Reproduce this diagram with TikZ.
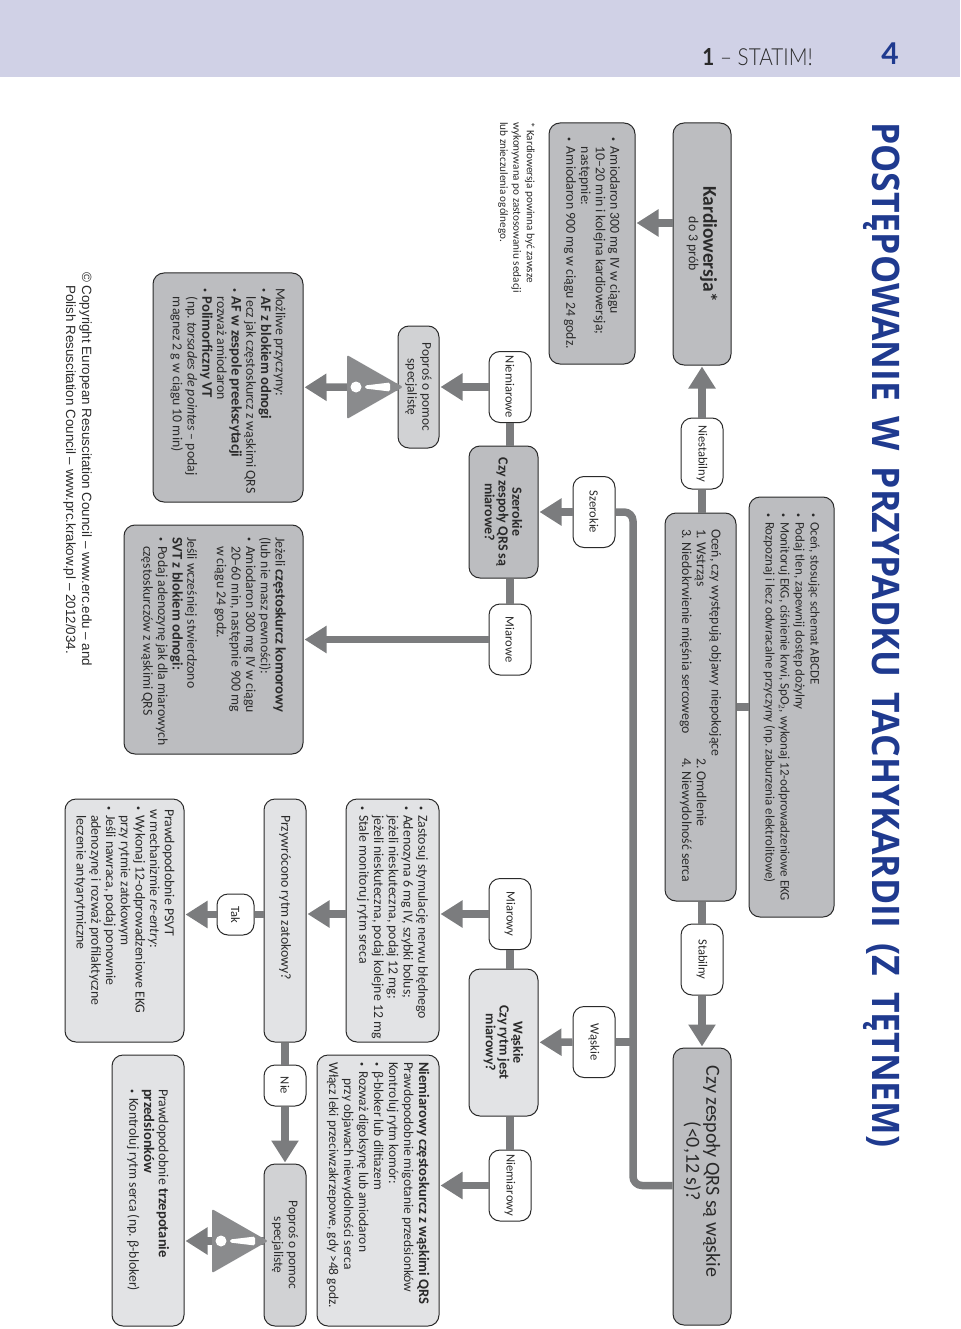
\documentclass[tikz,border=0pt]{standalone}
\usepackage{fontspec}
\setmainfont{Carlito}
\newfontfamily\arialfont{Liberation Sans}
\newfontfamily\titlefont{Open Sans}[WordSpace=1.7]
\newfontfamily\thinfont{Lato Light}[Ligatures=TeX]
\newfontfamily\latofont{Lato}[Ligatures=TeX]
\usetikzlibrary{arrows.meta,calc}
\definecolor{bandblue}{HTML}{D0D1E6}
\definecolor{titleblue}{HTML}{1F3A8F}
\definecolor{boxdark}{HTML}{BCBDC0}
\definecolor{boxmid}{HTML}{D1D2D4}
\definecolor{boxlight}{HTML}{E2E3E5}
\definecolor{flowgrey}{HTML}{7B7C7E}
\definecolor{signgrey}{HTML}{8A8B8D}
\definecolor{inkgrey}{HTML}{2A2A2A}
\frenchspacing
\newcommand{\bodysize}{\fontsize{13.8}{14.7}\selectfont}
\newcommand{\mocno}[1]{{\fontsize{14.6}{14.7}\selectfont\bfseries #1}}
\newcommand{\pkt}{\makebox[9pt][l]{\raisebox{.6pt}{\fontsize{8}{8}\selectfont\textbullet}}}
\newcommand{\hng}{\hspace*{9pt}}
\begin{document}
\begin{tikzpicture}[
        x=1pt,y=-1pt,
        >=latex,line cap=butt,line join=round,
        panel/.style={draw=inkgrey,line width=1pt,rounded corners=11pt,rotate=-90,
            fill=boxdark,text=inkgrey,font=\bodysize,inner ysep=0pt},
        sized/.code n args={3}{%
            \pgfmathsetmacro\panelw{#1-2*#3}%
            \pgfkeysalso{minimum width=#1pt,minimum height=#2pt,inner xsep=#3pt,
                text width=\panelw pt,align=flush left}},
        centred/.style 2 args={minimum width=#1pt,minimum height=#2pt,inner xsep=0pt,align=flush center},
        choice/.style={panel,fill=white,centred={71}{42},font=\fontsize{12.6}{14}\selectfont},
        question/.style={panel,font=\fontsize{14}{13.8}\selectfont\bfseries},
        flow/.style={draw=flowgrey,line width=7.5pt,-{Triangle[length=22pt,width=26pt]},shorten >=1pt},
        link/.style={draw=flowgrey,line width=7.5pt},
        warn/.pic={
            \fill[signgrey,rounded corners=2pt] (1,0) -- (-55,-32) -- (-55,32) -- cycle;
            \fill[white] (-46,0) circle (5.5);
            \fill[white,rounded corners=1.5pt] (-37,-1.5) -- (-12,-4.5) -- (-12,4.5) -- (-37,1.5) -- cycle;
        }
    ]
    \useasboundingbox (0,0) rectangle (960,1329);
    % header band
    \fill[bandblue] (0,0) rectangle (960,77);
    \node[anchor=base east,inner sep=0pt,font=\fontsize{23.5}{24}\thinfont\selectfont,text=inkgrey] (statim) at (813,66) {\scalebox{.88}[1]{{\latofont\bfseries 1} -- STATIM!}};
    \node[anchor=base,inner sep=0pt,font=\fontsize{30}{30}\latofont\selectfont\bfseries,text=titleblue] (pageno) at (890,65) {4};
    \node[rotate=-90,anchor=west,inner sep=0pt,text=titleblue,font=\fontsize{38}{38}\titlefont\selectfont\bfseries] (title) at (882,122)
        {\scalebox{.935}[1]{POSTĘPOWANIE W PRZYPADKU TACHYKARDII (Z TĘTNEM)}};

    % top row
    \node[panel,centred={242}{58}] (kardio) at (702,244)
        {{\fontsize{19.5}{21}\selectfont\bfseries Kardiowersja*}\\do 3 prób};
    \node[panel,sized={241}{86}{15}] (amio) at (592,243.5)
        {\pkt Amiodaron 300 mg IV w ciągu\\ \hng 10--20 min i kolejna kardiowersja;\\ \hng następnie:\\ \pkt Amiodaron 900 mg w ciągu 24 godz.};
    \node[choice] (niestabilny) at (702,453.5) {Niestabilny};
    \node[panel,sized={388}{71}{16}] (ocena) at (700.5,707)
        {Oceń, czy występują objawy niepokojące\\ \makebox[229pt][l]{1. Wstrząs}2. Omdlenie\\ \makebox[229pt][l]{3. Niedokrwienie mięśnia sercowego}4. Niewydolność serca};
    \node[panel,sized={420}{85}{16},font=\fontsize{13}{15}\selectfont] (abcde) at (791.5,707)
        {\pkt Oceń, stosując schemat ABCDE\\ \pkt Podaj tlen, zapewnij dostęp dożylny\\ \pkt\mbox{Monitoruj EKG, ciśnienie krwi, SpO$_2$, wykonaj 12-odprowadzeniowe EKG}\\ \pkt\mbox{Rozpoznaj i lecz odwracalne przyczyny (np. zaburzenia elektrolitowe)}};
    \node[choice] (stabilny) at (702,959.5) {Stabilny};
    \node[panel,centred={277}{58},font=\fontsize{20}{20}\selectfont] (czy) at (702,1186.5)
        {Czy zespoły QRS są wąskie\hspace*{30pt}\\(<0,12 s)?\hspace*{50pt}};

    % wide or narrow
    \node[choice] (szerokie) at (594,512) {Szerokie};
    \node[choice] (waskie) at (594,1042) {Wąskie};
    \node[question,centred={132}{69}] (szerokieq) at (503.5,512)
        {Szerokie\\Czy zespoły QRS są\\miarowe?};
    \node[question,centred={147}{69},fill=boxlight] (waskieq) at (503.5,1042.5)
        {Wąskie\\Czy rytm jest\\miarowy?};
    \node[choice] (niemiarowe) at (510,387) {Niemiarowe};
    \node[choice] (miarowe) at (510,639.5) {Miarowe};
    \node[choice] (miarowy) at (510,914) {Miarowy};
    \node[choice] (niemiarowy) at (510,1185.5) {Niemiarowy};

    % footnote
    \node[rotate=-90,anchor=north west,inner sep=0pt,align=flush left,text=inkgrey,font=\fontsize{11.2}{13.4}\selectfont] (note) at (535,122)
        {* Kardiowersja powinna być zawsze\\wykonywana po zastosowaniu sedacji\\lub znieczulenia ogólnego.};

    % wide branch
    \node[panel,centred={122}{41},fill=boxmid,font=\fontsize{13.4}{14.7}\selectfont] (specA) at (418.5,387)
        {Poproś o pomoc\\specjalistę};
    \node[panel,sized={229}{150}{15}] (przyczyny) at (228,387.5)
        {Możliwe przyczyny:\\ \pkt\mocno{AF z blokiem odnogi}\\ \hng\mbox{lecz jak częstoskurcz z wąskimi QRS}\\ \pkt\mocno{AF w zespole preekscytacji}\\ \hng rozważ amiodaron\\ \pkt\mocno{Polimorficzny VT}\\ \hng(np. \textit{torsades de pointes} -- podaj\\ \hng magnez 2 g w ciągu 10 min)};
    \node[panel,sized={229}{179}{12}] (komorowy) at (213.5,639.5)
        {Jeżeli \mocno{częstoskurcz komorowy}\\(lub nie masz pewności):\\ \pkt Amiodaron 300 mg IV w ciągu\\ \hng 20--60 min, następnie 900 mg\\ \hng w ciągu 24 godz.\\[14.7pt]Jeśli wcześniej stwierdzono\\\mocno{SVT z blokiem odnogi:}\\ \pkt\mbox{Podaj adenozynę jak dla miarowych}\\ \hng\mbox{częstoskurczów z wąskimi QRS}};

    % narrow branch
    \node[panel,sized={243}{93}{7},fill=boxlight] (zastosuj) at (392.5,920.5)
        {\pkt\mbox{Zastosuj stymulację nerwu błędnego}\\ \pkt Adenozyna 6 mg IV, szybki bolus;\\ \hng jeżeli nieskuteczna, podaj 12 mg;\\ \hng\mbox{jeżeli nieskuteczna, podaj kolejne 12 mg}\\ \pkt Stale monitoruj rytm sreca};
    \node[panel,sized={243}{42}{16},fill=boxlight] (przywrocono) at (285,920.5)
        {Przywrócono rytm zatokowy?};
    \node[panel,fill=white,centred={41}{37},font=\fontsize{12.6}{14}\selectfont] (tak) at (235.5,914.5) {Tak};
    \node[panel,sized={243}{119}{7},fill=boxlight] (psvt) at (124.5,920.5)
        {\hspace*{3pt}Prawdopodobnie PSVT\\ \hspace*{3pt}w mechanizmie \textit{re-entry}:\\ \pkt Wykonaj 12-odprowadzeniowe EKG\\ \hng przy rytmie zatokowym\\ \pkt Jeśli nawraca, podaj ponownie\\ \hng adenozynę i rozważ profilaktyczne\\ \hng leczenie antyarytmiczne};
    \node[panel,fill=white,centred={41}{42},font=\fontsize{12.6}{14}\selectfont] (nie) at (285,1085.5) {Nie};
    \node[panel,centred={162}{42},fill=boxmid,font=\fontsize{13.4}{14.7}\selectfont] (specB) at (285,1245)
        {Poproś o pomoc\\specjalistę};
    \node[panel,sized={271}{122}{7},fill=boxlight,font=\fontsize{13.5}{15}\selectfont] (migotanie) at (378,1190.5)
        {\mocno{Niemiarowy częstoskurcz z wąskimi QRS}\\Prawdopodobnie migotanie przedsionków\\Kontroluj rytm komór:\\ \pkt β-bloker lub diltiazem\\ \pkt Rozważ digoksynę lub amiodaron\\ \hspace*{16pt}przy objawach niewydolności serca\\\mbox{Włącz leki przeciwzakrzepowe, gdy >48 godz.}};
    \node[panel,sized={271}{72}{34},fill=boxlight] (trzepotanie) at (148,1190.5)
        {Prawdopodobnie \mocno{trzepotanie}\\\mocno{przedsionków}\\ \pkt\mbox{Kontroluj rytm serca (np. β-bloker)}};

    % copyright
    \node[rotate=-90,anchor=north west,inner sep=0pt,align=flush left,text=inkgrey,font=\arialfont\fontsize{13.4}{16}\selectfont] (copyr) at (92,272)
        {© Copyright European Resuscitation Council – www.erc.edu – and\\\hspace*{13pt}Polish Resuscitation Council – www.prc.krakow.pl – 2012/034.};

    % connectors
    \coordinate (rail) at (633,700);
    \coordinate (kardioexit) at (673,223);
    \coordinate (warnApos) at (402,387);
    \coordinate (warnBpos) at (267,1241);
    \draw[link] (niestabilny |- ocena.west) -- (niestabilny);
    \draw[flow] (niestabilny) -- (kardio);
    \draw[flow] (kardioexit) -- (amio.north |- kardioexit);
    \draw[link] (ocena) -- (abcde);
    \draw[link] (stabilny |- ocena.east) -- (stabilny);
    \draw[flow] (stabilny) -- (czy);
    \draw[link,rounded corners=9pt] (czy.south |- niemiarowy) -| (rail |- szerokie) -- (szerokie);
    \draw[link] (rail |- waskie) -- (waskie);
    \draw[flow] (szerokie) -- (szerokieq);
    \draw[flow] (waskie) -- (waskieq);
    \draw[link] (szerokieq.west -| niemiarowe) -- (niemiarowe);
    \draw[link] (szerokieq.east -| miarowe) -- (miarowe);
    \draw[link] (waskieq.west -| miarowy) -- (miarowy);
    \draw[link] (waskieq.east -| niemiarowy) -- (niemiarowy);
    \draw[flow] (niemiarowe) -- (specA);
    \draw[flow] (specA) -- (przyczyny);
    \draw[flow] (miarowe) -- (komorowy);
    \draw[flow] (miarowy) -- (zastosuj.north |- miarowy);
    \draw[flow] (zastosuj.south |- miarowy) -- (przywrocono.north |- miarowy);
    \draw[link] (przywrocono.south |- tak) -- (tak);
    \draw[flow] (tak) -- (psvt.north |- tak);
    \draw[link] (przywrocono) -- (nie);
    \draw[flow] (nie) -- (specB);
    \draw[flow] (niemiarowy) -- (migotanie.north |- niemiarowy);
    \draw[flow] (specB.south |- warnBpos) -- (trzepotanie.north |- warnBpos);
    \pic at (warnApos) {warn};
    \pic at (warnBpos) {warn};
\end{tikzpicture}
\end{document}
